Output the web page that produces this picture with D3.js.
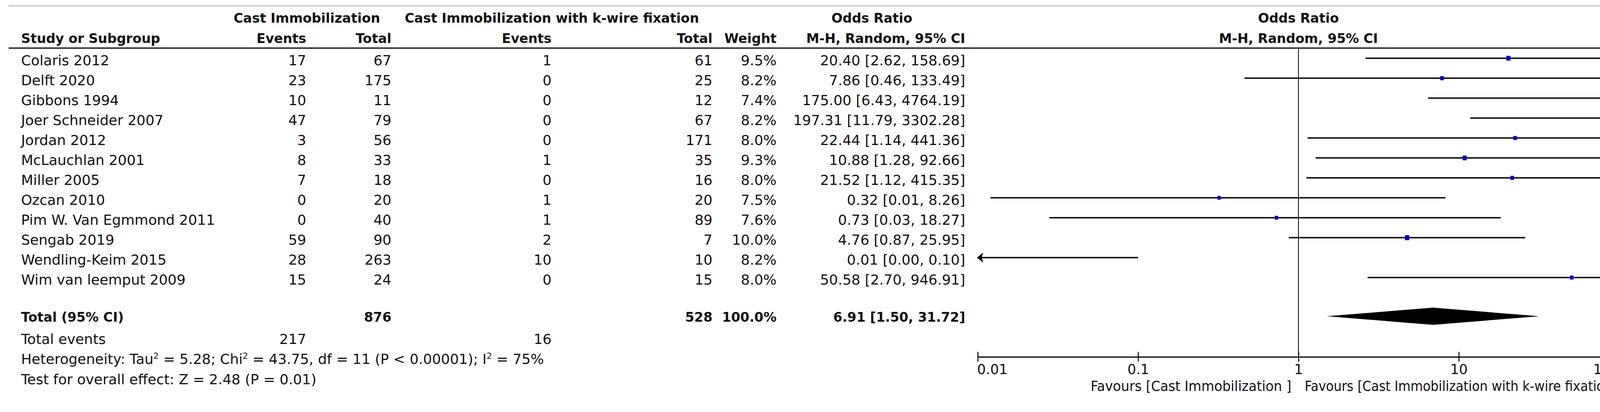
<!DOCTYPE html>
<html>
<head>
<meta charset="utf-8">
<script src="https://cdn.jsdelivr.net/npm/d3@7"></script>
<style>
  html, body { margin: 0; padding: 0; background: #fff; overflow: hidden; }
  svg { display: block; }
  text { font-family: "DejaVu Sans", sans-serif; fill: #111; }
</style>
</head>
<body>
<div id="chart"></div>
<script>
// forest plot data
const studies = ["Colaris 2012", "Delft 2020", "Gibbons 1994", "Joer Schneider 2007", "Jordan 2012",
  "McLauchlan 2001", "Miller 2005", "Ozcan 2010", "Pim W. Van Egmmond 2011", "Sengab 2019",
  "Wendling-Keim 2015", "Wim van leemput 2009"];
const castEvents = [17, 23, 10, 47, 3, 8, 7, 0, 0, 59, 28, 15];
const castTotal = [67, 175, 11, 79, 56, 33, 18, 20, 40, 90, 263, 24];
const kwireEvents = [1, 0, 0, 0, 0, 1, 0, 1, 1, 2, 10, 0];
const kwireTotal = [61, 25, 12, 67, 171, 35, 16, 20, 89, 7, 10, 15];
const weights = [9.5, 8.2, 7.4, 8.2, 8.0, 9.3, 8.0, 7.5, 7.6, 10.0, 8.2, 8.0];
const orEst = [20.40, 7.86, 175.00, 197.31, 22.44, 10.88, 21.52, 0.32, 0.73, 4.76, 0.009, 50.58];
const orLow = [2.62, 0.46, 6.43, 11.79, 1.14, 1.28, 1.12, 0.012, 0.028, 0.87, 0.001, 2.70];
const orHigh = [158.69, 133.49, 4764.19, 3302.28, 441.36, 92.66, 415.35, 8.26, 18.27, 25.95, 0.10, 946.91];

const totalCast = 876, totalKwire = 528, totalWeight = 100.0;
const eventsCast = 217, eventsKwire = 16;
const pooledOR = [6.91, 1.50, 31.72];   // estimate, low, high
const hetTau2 = 5.28, hetChi2 = 43.75, hetDf = 11, hetP = "< 0.00001", hetI2 = 75;
const overallZ = 2.48, overallP = "0.01";
const axisTicks = [0.01, 0.1, 1, 10, 100];
const favourLeft = "Favours [Cast Immobilization ]";
const favourRight = "Favours [Cast Immobilization with k-wire fixation]";

const width = 4196, height = 1054;
const fs = 36, fsBold = 33.5;

const svg = d3.select("#chart").append("svg")
  .attr("width", width).attr("height", height)
  .attr("viewBox", [0, 0, width, height]);

svg.append("rect").attr("width", width).attr("height", height).attr("fill", "#fff");

let x = d3.scaleLog().domain([0.01, 100]).range([2503, 4145]);
let rowY = d3.scaleLinear().domain([0, 1]).range([153, 204]); // text centre per row
const totalY = 809;

// frame lines
svg.append("line").attr("x1", 22).attr("x2", 4183).attr("y1", 15).attr("y2", 15)
  .attr("stroke", "#c2c2c2").attr("stroke-width", 3);
svg.append("line").attr("x1", 4180).attr("x2", 4180).attr("y1", 18).attr("y2", 1027)
  .attr("stroke", "#ebebeb").attr("stroke-width", 4);
svg.append("line").attr("x1", 22).attr("x2", 4177).attr("y1", 123).attr("y2", 123)
  .attr("stroke", "#000").attr("stroke-width", 3);

function txt(s, xp, yp, anchor, bold) {
  return svg.append("text").attr("x", xp).attr("y", yp)
    .attr("text-anchor", anchor || "start")
    .attr("font-size", bold ? fsBold : fs)
    .attr("font-weight", bold ? "bold" : null)
    .text(s);
}

// column headers
const cols = {name: 54, castEv: 784, castTot: 1002, kwEv: 1412, kwTot: 1824, weight: 1988, or: 2471};
txt("Cast Immobilization", 598, 58, "start", true);
txt("Cast Immobilization with k-wire fixation", 1036, 58, "start", true);
txt("Odds Ratio", 2232, 58, "middle", true);
txt("Odds Ratio", x(1), 58, "middle", true);
txt("Study or Subgroup", cols.name, 110, "start", true);
txt("Events", cols.castEv, 110, "end", true);
txt("Total", cols.castTot, 110, "end", true);
txt("Events", cols.kwEv, 110, "end", true);
txt("Total", cols.kwTot, 110, "end", true);
txt("Weight", cols.weight, 110, "end", true);
txt("M-H, Random, 95% CI", cols.or, 110, "end", true);
txt("M-H, Random, 95% CI", x(1), 110, "middle", true);

// study rows
const f2 = d3.format(".2f");
studies.forEach((s, i) => {
  const yb = rowY(i) + 14;
  txt(s, cols.name, yb);
  txt(castEvents[i], cols.castEv, yb, "end");
  txt(castTotal[i], cols.castTot, yb, "end");
  txt(kwireEvents[i], cols.kwEv, yb, "end");
  txt(kwireTotal[i], cols.kwTot, yb, "end");
  txt(weights[i].toFixed(1) + "%", cols.weight, yb, "end");
  txt(`${f2(orEst[i])} [${f2(orLow[i])}, ${f2(orHigh[i])}]`, cols.or, yb, "end");
});

// reference line at 1
svg.append("line").attr("x1", x(1)).attr("x2", x(1)).attr("y1", 123).attr("y2", 913)
  .attr("stroke", "#000").attr("stroke-width", 2);

// confidence intervals
const [dMin, dMax] = x.domain();
const ci = svg.append("g");
studies.forEach((s, i) => {
  const y = rowY(i) - 4;
  const x0 = x(Math.max(orLow[i], dMin)), x1 = x(Math.min(orHigh[i], dMax));
  ci.append("line").attr("x1", x0).attr("x2", x1).attr("y1", y).attr("y2", y)
    .attr("stroke", "#000").attr("stroke-width", 3.5);
  if (orHigh[i] > dMax) {
    ci.append("path").attr("fill", "#000")
      .attr("d", `M${x1 + 2},${y} L${x1 - 14},${y - 13} L${x1 - 10},${y} L${x1 - 14},${y + 13} Z`);
  }
  if (orLow[i] < dMin) {
    ci.append("path").attr("fill", "#000")
      .attr("d", `M${x0 - 2},${y} L${x0 + 14},${y - 13} L${x0 + 10},${y} L${x0 + 14},${y + 13} Z`);
  }
  if (orEst[i] > dMin && orEst[i] < dMax) {
    const h = weights[i] * 1.3, w = h * 0.85;
    ci.append("rect").attr("x", x(orEst[i]) - w / 2).attr("y", y - h / 2)
      .attr("width", w).attr("height", h).attr("fill", "#0000c8");
  }
});

// total row
txt("Total (95% CI)", cols.name, totalY + 14, "start", true);
txt(totalCast, cols.castTot, totalY + 14, "end", true);
txt(totalKwire, cols.kwTot, totalY + 14, "end", true);
txt(totalWeight.toFixed(1) + "%", cols.weight, totalY + 14, "end", true);
txt(`${f2(pooledOR[0])} [${f2(pooledOR[1])}, ${f2(pooledOR[2])}]`, cols.or, totalY + 14, "end", true);

svg.append("path").attr("fill", "#000")
  .attr("d", `M${x(pooledOR[1])},${totalY} L${x(pooledOR[0])},${totalY - 22} L${x(pooledOR[2])},${totalY} L${x(pooledOR[0])},${totalY + 22} Z`);

txt("Total events", cols.name, 880);
txt(eventsCast, cols.castEv, 880, "end");
txt(eventsKwire, cols.kwEv, 880, "end");

const het = txt("", cols.name, 931);
const sup = (t) => het.append("tspan").attr("dy", -13).attr("font-size", fs * 0.6).text(t);
const norm = (t) => het.append("tspan").attr("dy", 13).text(t);
het.append("tspan").text("Heterogeneity: Tau");
sup("2"); norm(` = ${hetTau2}; Chi`);
sup("2"); norm(` = ${hetChi2}, df = ${hetDf} (P ${hetP}); I`);
sup("2"); norm(` = ${hetI2}%`);

txt(`Test for overall effect: Z = ${overallZ} (P = ${overallP})`, cols.name, 983);

// axis (labels at the two ends are aligned inwards)
const first = axisTicks[0], last = axisTicks[axisTicks.length - 1];
const axis = svg.append("g")
  .attr("transform", "translate(0,913)")
  .call(d3.axisBottom(x).tickValues(axisTicks).tickFormat(d => String(d)).tickSizeOuter(0));
axis.select(".domain").attr("stroke", "#000").attr("stroke-width", 3);
axis.selectAll(".tick line").attr("y1", -13).attr("y2", 12).attr("stroke", "#000").attr("stroke-width", 2.5);
axis.selectAll(".tick text")
  .attr("font-size", 35).attr("font-family", "DejaVu Sans").attr("fill", "#111")
  .attr("y", 44).attr("dy", null)
  .attr("x", d => d === first ? -2 : 0)
  .attr("text-anchor", d => d === first ? "start" : (d === last ? "end" : "middle"));

// favours labels, squeezed to the widths they take in the original
txt(favourLeft, x(1) - 18, 1000, "end")
  .attr("textLength", 514).attr("lengthAdjust", "spacingAndGlyphs");
txt(favourRight, x(1) + 16, 1000, "start")
  .attr("textLength", 800).attr("lengthAdjust", "spacingAndGlyphs");
</script>
</body>
</html>
